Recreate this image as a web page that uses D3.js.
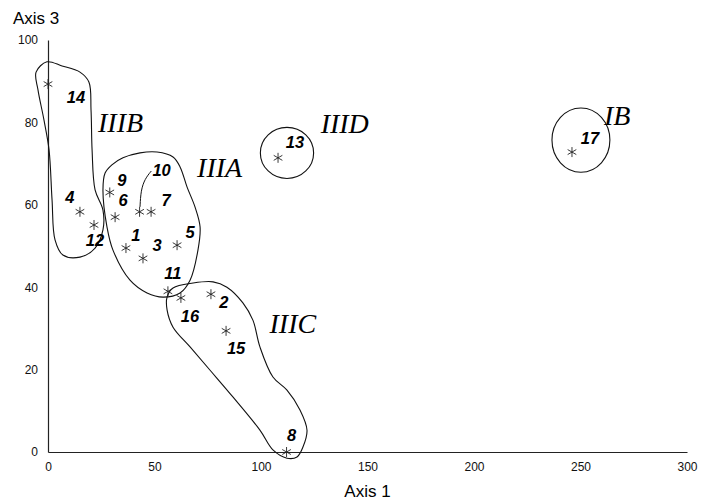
<!DOCTYPE html>
<html>
<head>
<meta charset="utf-8">
<script src="https://cdn.jsdelivr.net/npm/d3@7"></script>
<style>
  body { margin: 0; background: #fff; }
  svg { display: block; }
</style>
</head>
<body>
<div id="container"></div>
<script>
var width = 721,
    height = 502;

// sample points: id, axis 1, axis 3
var ids   = ["1", "2", "3", "4", "5", "6", "7", "8", "9", "10", "11", "12", "13", "14", "15", "16", "17"];
var axis1 = [36.6, 76.5, 44.6, 15, 60.6, 31.5, 48.4, 112, 29, 43, 56.3, 21.6, 108, 0, 83.6, 62.4, 246];
var axis3 = [49.5, 38.3, 47, 58.3, 50.2, 57, 58.3, 0, 63, 58.3, 39, 55.1, 71.4, 89.3, 29.4, 37.4, 72.8];
// label offset (pixels) from each point
var labelDx = [10, 13, 14, -10, 13, 8, 15, 5, 12, 22, 5, 1, 17, 28, 10, 9, 18];
var labelDy = [-13, 8, -13, -15, -13, -17, -12, -17, -12, -42, -18, 15, -16, 13, 17, 18, -14];

var xTicks = [0, 50, 100, 150, 200, 250, 300];
var yTicks = [0, 20, 40, 60, 80, 100];

// group outlines, in data units
var groupIIIB = [[-0.5, 94.7], [6.6, 93.7], [15, 92.2], [19.2, 89.8], [20.2, 83], [20.7, 73.3], [22.1, 63.6],
  [25.8, 58.7], [25.8, 53.9], [22.1, 49.5], [15, 47.3], [7, 47.8], [3.3, 51.5], [1.9, 61.2],
  [0.5, 73.3], [-1.9, 80.6], [-4.7, 87.9], [-5.6, 92.2]];
var groupIIIA = [[43.2, 72.6], [51.2, 72.8], [58.7, 71.6], [62, 69.2], [65.3, 64.3], [69, 59.5], [71.4, 54.6],
  [70.4, 49], [66.7, 41.7], [62, 38.6], [54, 37.6], [46.5, 38.6], [38.5, 41.7], [30.5, 49],
  [27.7, 54.6], [25.8, 63.6], [26.8, 67.7], [30, 69.7], [35.2, 71.4]];
var groupIIIC = [[55.9, 37.6], [58.7, 39.8], [68.1, 41], [77.5, 41.3], [84, 40], [91.5, 36.2], [96.2, 32],
  [99.5, 25.5], [105.6, 18.2], [112.2, 15], [118.3, 10.2], [121.6, 5.3], [119.7, 1.2], [116.9, -1.2],
  [112.2, -1.5], [105.6, 0.5], [99.5, 5.3], [86.9, 13.3], [76, 19.9], [66.7, 25.5], [58.7, 30.3], [55.9, 34.5]];
// round groups: centre x, centre y, radius x, radius y
var groupIIID = [112.2, 72.6, 12.5, 6.2];
var groupIB   = [250.2, 75.7, 13.6, 7.8];

var groupNames = ["IIIB", "IIIA", "IIIC", "IIID", "IB"];
var groupNameX = [23.5, 70, 104, 128, 261];
var groupNameY = [77.7, 66.7, 28.9, 77.4, 79.4];

// leader line from point 10 to its label
var leader10 = [[43.2, 59.5], [43.6, 63.5], [45.5, 66.3], [48.5, 68.2]];

var svg = d3.select("#container").append("svg")
  .attr("width", width)
  .attr("height", height);

var x = d3.scaleLinear().domain([0, 300]).range([48, 687]);
var y = d3.scaleLinear().domain([0, 100]).range([452, 40]);

// axes
svg.append("g")
  .attr("transform", "translate(0," + y(0) + ")")
  .call(d3.axisBottom(x).tickValues(xTicks).tickSize(0).tickPadding(10))
  .call(function(g) {
    g.select(".domain").attr("stroke", "#222").attr("stroke-width", 1.2);
    g.selectAll("text").attr("font-family", "Liberation Sans, Arial, sans-serif").attr("font-size", 12).attr("fill", "#111");
  });

svg.append("g")
  .attr("transform", "translate(" + x(0) + ",0)")
  .call(d3.axisLeft(y).tickValues(yTicks).tickSize(0).tickPadding(10))
  .call(function(g) {
    g.select(".domain").attr("stroke", "#222").attr("stroke-width", 1.2);
    g.selectAll("text").attr("font-family", "Liberation Sans, Arial, sans-serif").attr("font-size", 12).attr("fill", "#111");
  });

svg.append("text")
  .attr("x", 13).attr("y", 24)
  .attr("font-family", "Liberation Sans, Arial, sans-serif")
  .attr("font-size", 17)
  .text("Axis 3");

svg.append("text")
  .attr("x", x(150)).attr("y", 497)
  .attr("text-anchor", "middle")
  .attr("font-family", "Liberation Sans, Arial, sans-serif")
  .attr("font-size", 17)
  .text("Axis 1");

// group outlines
var outline = d3.line()
  .x(function(d) { return x(d[0]); })
  .y(function(d) { return y(d[1]); })
  .curve(d3.curveCatmullRomClosed.alpha(0.5));

[groupIIIB, groupIIIA, groupIIIC].forEach(function(g) {
  svg.append("path")
    .attr("d", outline(g))
    .attr("fill", "none")
    .attr("stroke", "#111")
    .attr("stroke-width", 1.1);
});

[groupIIID, groupIB].forEach(function(g) {
  svg.append("ellipse")
    .attr("cx", x(g[0])).attr("cy", y(g[1]))
    .attr("rx", x(g[2]) - x(0)).attr("ry", y(0) - y(g[3]))
    .attr("fill", "none")
    .attr("stroke", "#111")
    .attr("stroke-width", 1.1);
});

svg.append("path")
  .attr("d", d3.line().x(function(d) { return x(d[0]); }).y(function(d) { return y(d[1]); })
    .curve(d3.curveBasis)(leader10))
  .attr("fill", "none")
  .attr("stroke", "#111")
  .attr("stroke-width", 1);

// group names
svg.selectAll("text.group")
  .data(groupNames)
  .enter().append("text")
  .attr("class", "group")
  .attr("x", function(d, i) { return x(groupNameX[i]); })
  .attr("y", function(d, i) { return y(groupNameY[i]); })
  .attr("font-family", "Liberation Serif, Times New Roman, serif")
  .attr("font-style", "italic")
  .attr("font-size", 28)
  .text(function(d) { return d; });

// points
var star = d3.symbol().type(d3.symbolAsterisk).size(70);

svg.selectAll("path.pt")
  .data(ids)
  .enter().append("path")
  .attr("class", "pt")
  .attr("d", star)
  .attr("transform", function(d, i) { return "translate(" + x(axis1[i]) + "," + y(axis3[i]) + ")"; })
  .attr("fill", "none")
  .attr("stroke", "#222")
  .attr("stroke-width", 0.9);

svg.selectAll("text.lbl")
  .data(ids)
  .enter().append("text")
  .attr("class", "lbl")
  .attr("x", function(d, i) { return x(axis1[i]) + labelDx[i]; })
  .attr("y", function(d, i) { return y(axis3[i]) + labelDy[i]; })
  .attr("dy", "0.35em")
  .attr("text-anchor", "middle")
  .attr("font-family", "Liberation Sans, Arial, sans-serif")
  .attr("font-weight", "bold")
  .attr("font-style", "italic")
  .attr("font-size", 16.5)
  .text(function(d) { return d; });
</script>
</body>
</html>
